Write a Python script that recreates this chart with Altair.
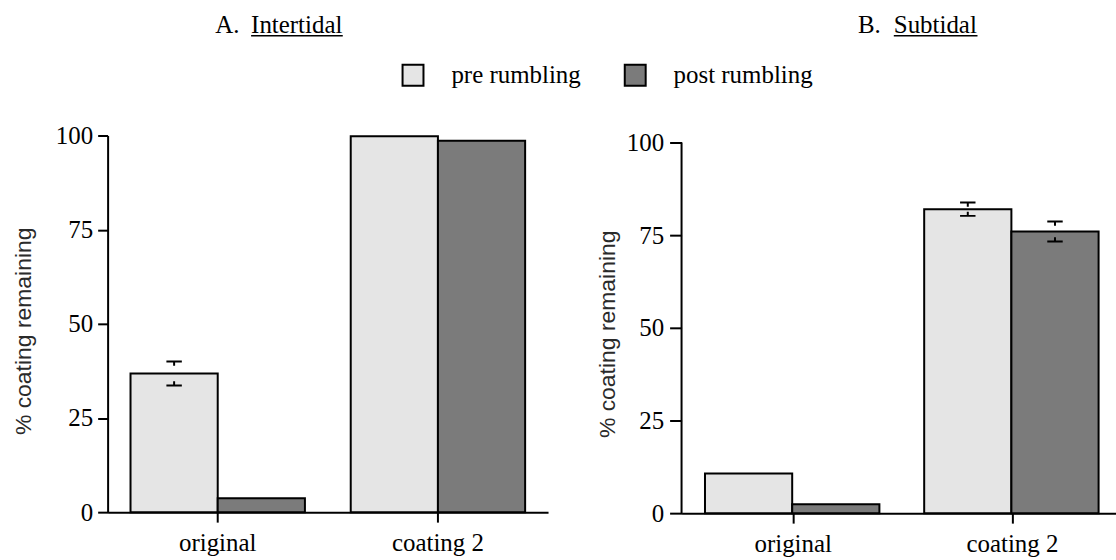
import altair as alt
import pandas as pd

# categories and series
categories = ["original", "coating 2"]
phases = ["pre rumbling", "post rumbling"]

intertidal_pre = [36.8, 99.8]
intertidal_post = [3.7, 98.6]
intertidal_pre_se = [3.2, 0.0]
intertidal_post_se = [0.0, 0.0]

subtidal_pre = [10.7, 82.0]
subtidal_post = [2.4, 76.0]
subtidal_pre_se = [0.0, 1.8]
subtidal_post_se = [0.0, 2.7]

y_ticks = [0, 25, 50, 75, 100]
panel_letters = ["A.", "B."]
panel_names = ["Intertidal", "Subtidal"]
y_title = "% coating remaining"
fill_colors = ["#e5e5e5", "#7b7b7b"]

SERIF = "Liberation Serif"
SANS = "Liberation Sans"

# error-bar caps: a horizontal cap with a short stub pointing back to the mean
UPPER_CAP = "M-1,0H1M0,0V0.55"
LOWER_CAP = "M-1,0H1M0,0V-0.55"


def frame(pre, post, pre_se, post_se):
    rows = []
    for i, c in enumerate(categories):
        rows.append({"category": c, "phase": phases[0], "value": pre[i], "se": pre_se[i]})
        rows.append({"category": c, "phase": phases[1], "value": post[i], "se": post_se[i]})
    return pd.DataFrame(rows)


legend = alt.Legend(
    orient="none", legendX=294, legendY=-73, direction="horizontal", title=None,
    symbolType="square", symbolSize=441, symbolStrokeColor="black",
    symbolStrokeWidth=2, symbolOpacity=1, labelFont=SERIF, labelFontSize=25,
    labelColor="black", labelOffset=26, columnPadding=40,
)


def panel(idx, df, width, height, y_max, band_inner, band_outer, band_align,
          tick_size, label_pad, title_pad, title_y, letter_x, name_x, head_y,
          underline_w, own_domain):
    x = alt.X(
        "category:N", sort=categories,
        scale=alt.Scale(paddingInner=band_inner, paddingOuter=band_outer, align=band_align),
        axis=alt.Axis(title=None, labelAngle=0, labelPadding=8),
    )
    x_off = alt.XOffset("phase:N", sort=phases)
    y_axis = alt.Axis(values=y_ticks, title=y_title, titlePadding=title_pad, titleY=title_y,
                      tickSize=tick_size, labelPadding=label_pad, domain=not own_domain)
    y_scale = alt.Scale(domain=[0, y_max], nice=False, zero=True)

    base = alt.Chart(df)
    bars = base.mark_bar(stroke="black", strokeWidth=2, opacity=1).encode(
        x=x, xOffset=x_off,
        y=alt.Y("value:Q", scale=y_scale, axis=y_axis),
        fill=alt.Fill("phase:N", sort=phases,
                      scale=alt.Scale(domain=phases, range=fill_colors), legend=legend),
    )
    caps = base.transform_filter("datum.se > 0").transform_calculate(
        hi="datum.value + datum.se", lo="datum.value - datum.se"
    )
    cap_style = dict(size=240, filled=False, stroke="black", strokeWidth=2, opacity=1)
    upper = caps.mark_point(shape=UPPER_CAP, **cap_style).encode(
        x=x, xOffset=x_off, y=alt.Y("hi:Q", scale=y_scale, axis=y_axis)
    )
    lower = caps.mark_point(shape=LOWER_CAP, **cap_style).encode(
        x=x, xOffset=x_off, y=alt.Y("lo:Q", scale=y_scale, axis=y_axis)
    )

    head = alt.Chart(pd.DataFrame({"letter": [panel_letters[idx]], "name": [panel_names[idx]]}))
    head_style = dict(font=SERIF, fontSize=25, color="black", align="left", baseline="alphabetic")
    letter = head.mark_text(**head_style).encode(
        text="letter:N", x=alt.value(letter_x), y=alt.value(head_y)
    )
    name = head.mark_text(**head_style).encode(
        text="name:N", x=alt.value(name_x), y=alt.value(head_y)
    )
    underline = head.mark_rule(color="black", strokeWidth=1.5).encode(
        x=alt.value(name_x), x2=alt.value(name_x + underline_w), y=alt.value(head_y + 3)
    )
    layers = [bars, upper, lower, letter, name, underline]

    if own_domain:
        # y axis line running from the lowest to the highest tick value
        axis_line = head.mark_rule(color="black", strokeWidth=2).encode(
            x=alt.value(0),
            y=alt.Y(datum=y_ticks[0], scale=y_scale, axis=y_axis),
            y2=alt.Y2(datum=y_ticks[-1]),
        )
        layers.append(axis_line)

    return alt.layer(*layers).properties(width=width, height=height)


intertidal = panel(0, frame(intertidal_pre, intertidal_post, intertidal_pre_se, intertidal_post_se),
                   442, 378, 100, 0.208, 0.104, 0.5, 10, 5, 20, 196, 108, 144, -103, 92, False)
subtidal = panel(1, frame(subtidal_pre, subtidal_post, subtidal_pre_se, subtidal_post_se),
                 436, 379, 101.88, 0.195, 0.0885, 0.604, 12, 6, 7, 199, 177, 213, -103, 84, True)

chart = (
    alt.hconcat(intertidal, subtidal, spacing=48)
    .resolve_scale(fill="shared")
    .properties(padding={"left": 12, "top": 12, "right": 0, "bottom": 0})
    .configure_view(stroke=None)
    .configure_axis(
        domainColor="black", domainWidth=2, tickColor="black", tickWidth=2,
        tickSize=10, labelFont=SERIF, labelFontSize=25, labelColor="black",
        grid=False, labelPadding=5, titleFont=SANS, titleFontSize=23,
        titleFontWeight="normal", titleColor="#2a2a2a",
    )
)

chart.save("out.html", embed_options={"renderer": "svg", "actions": False})
